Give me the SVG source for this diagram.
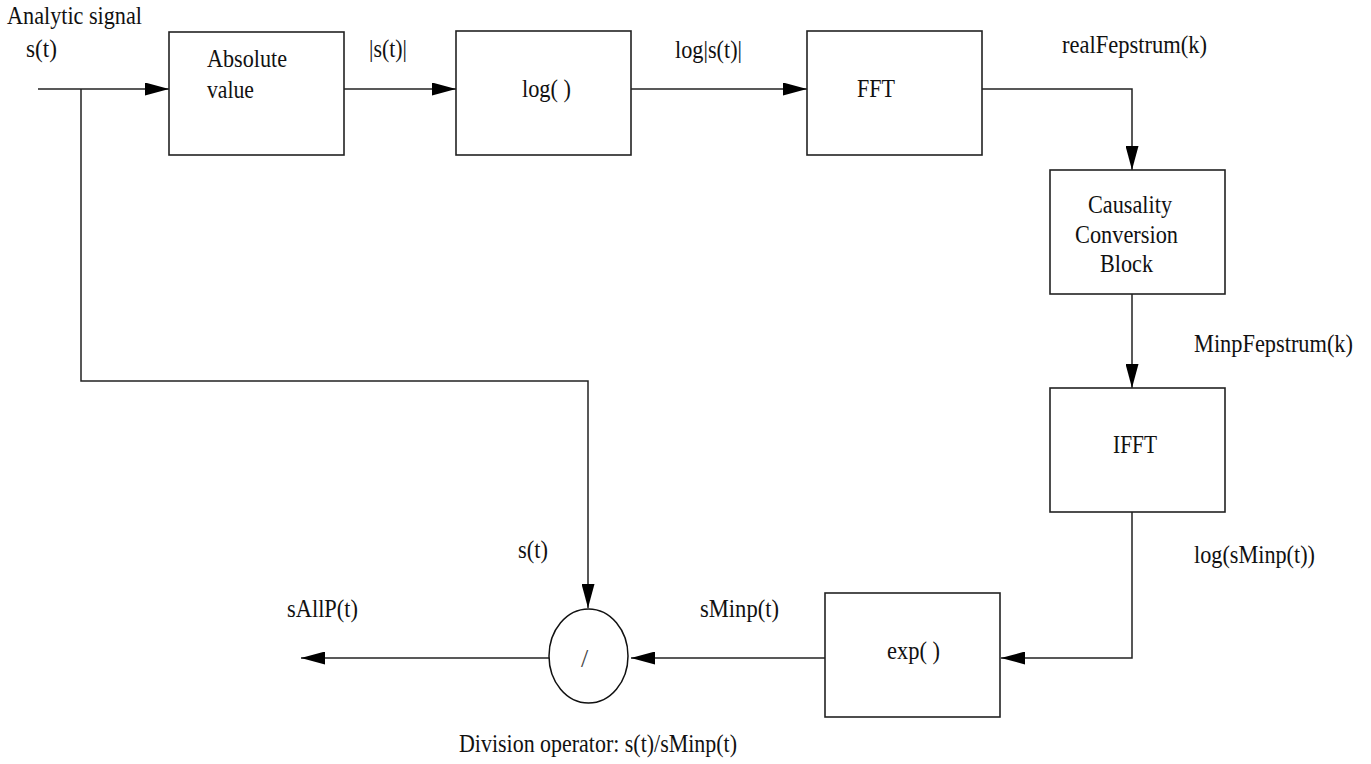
<svg xmlns="http://www.w3.org/2000/svg" width="1371" height="764" viewBox="0 0 1371 764">
<style>
.box{fill:#fff;stroke:#222;stroke-width:1.6}
.wire{fill:none;stroke:#222;stroke-width:1.5}
text{font-family:"Liberation Serif","Times New Roman",serif;font-size:25px;fill:#111}
</style>
<defs>
<marker id="ah" markerUnits="userSpaceOnUse" markerWidth="24" markerHeight="13" refX="24" refY="6.5" orient="auto">
<path d="M0,0 L24,6.5 L0,13 z" fill="#000"/>
</marker>
</defs>
<rect width="1371" height="764" fill="#fff"/>
<g id="connectors">
<path class="wire" d="M38,89 H169" marker-end="url(#ah)"/>
<path class="wire" d="M81,89 V381 H588 V608" marker-end="url(#ah)"/>
<path class="wire" d="M344,89 H456" marker-end="url(#ah)"/>
<path class="wire" d="M631,89 H807" marker-end="url(#ah)"/>
<path class="wire" d="M982,89 H1132 V170" marker-end="url(#ah)"/>
<path class="wire" d="M1132,294 V388" marker-end="url(#ah)"/>
<path class="wire" d="M1132,512 V658 H1001" marker-end="url(#ah)"/>
<path class="wire" d="M825,658 H631" marker-end="url(#ah)"/>
<path class="wire" d="M549,658 H301" marker-end="url(#ah)"/>
</g>
<g id="labels">
<text x="7" y="24" textLength="135" lengthAdjust="spacingAndGlyphs">Analytic signal</text>
<text x="26" y="57" textLength="31" lengthAdjust="spacingAndGlyphs">s(t)</text>
<text x="369" y="57" textLength="38" lengthAdjust="spacingAndGlyphs">|s(t)|</text>
<text x="675" y="58" textLength="67" lengthAdjust="spacingAndGlyphs">log|s(t)|</text>
<text x="1062" y="53" textLength="145" lengthAdjust="spacingAndGlyphs">realFepstrum(k)</text>
<text x="1194" y="352" textLength="159" lengthAdjust="spacingAndGlyphs">MinpFepstrum(k)</text>
<text x="1194" y="563" textLength="121" lengthAdjust="spacingAndGlyphs">log(sMinp(t))</text>
<text x="700" y="617" textLength="79" lengthAdjust="spacingAndGlyphs">sMinp(t)</text>
<text x="518" y="558" textLength="30" lengthAdjust="spacingAndGlyphs">s(t)</text>
<text x="287" y="617" textLength="71" lengthAdjust="spacingAndGlyphs">sAllP(t)</text>
<text x="459" y="752" textLength="278" lengthAdjust="spacingAndGlyphs">Division operator: s(t)/sMinp(t)</text>
</g>
<g id="abs">
<rect class="box" x="169" y="32" width="175" height="123"/>
<text x="207" y="67" textLength="80" lengthAdjust="spacingAndGlyphs">Absolute</text>
<text x="207" y="98" textLength="47" lengthAdjust="spacingAndGlyphs">value</text>
</g>
<g id="log">
<rect class="box" x="456" y="31" width="175" height="124"/>
<text x="522" y="97" textLength="49" lengthAdjust="spacingAndGlyphs">log( )</text>
</g>
<g id="fft">
<rect class="box" x="807" y="31" width="175" height="124"/>
<text x="857" y="97" textLength="38" lengthAdjust="spacingAndGlyphs">FFT</text>
</g>
<g id="causality">
<rect class="box" x="1050" y="170" width="175" height="124"/>
<text x="1088" y="213" textLength="84" lengthAdjust="spacingAndGlyphs">Causality</text>
<text x="1075" y="243" textLength="103" lengthAdjust="spacingAndGlyphs">Conversion</text>
<text x="1100" y="272" textLength="53" lengthAdjust="spacingAndGlyphs">Block</text>
</g>
<g id="ifft">
<rect class="box" x="1050" y="388" width="175" height="124"/>
<text x="1113" y="453" textLength="44" lengthAdjust="spacingAndGlyphs">IFFT</text>
</g>
<g id="exp">
<rect class="box" x="825" y="593" width="175" height="124"/>
<text x="887" y="659" textLength="53" lengthAdjust="spacingAndGlyphs">exp( )</text>
</g>
<g id="divide">
<ellipse cx="588.5" cy="656" rx="39.5" ry="47" fill="#fff" stroke="#111" stroke-width="1.5"/>
<text x="581" y="667" style="font-size:26px;fill:#444">/</text>
</g>
</svg>
